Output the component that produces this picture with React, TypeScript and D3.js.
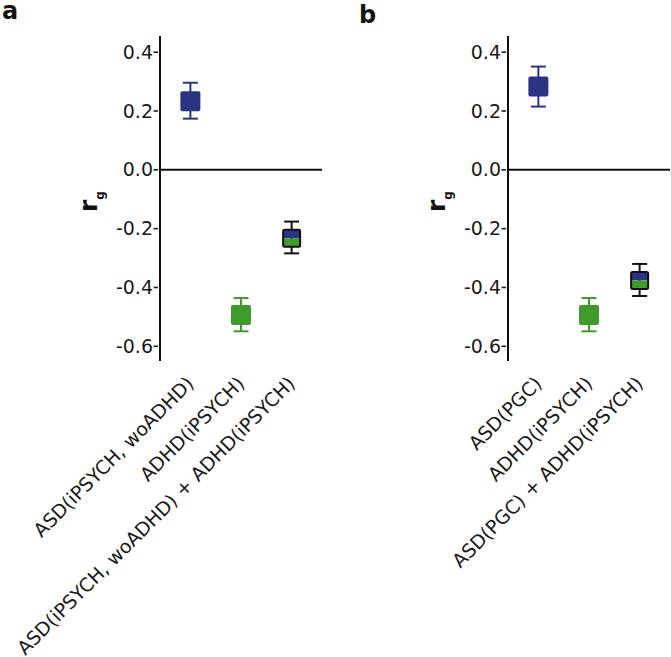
import React from "react";
import * as d3 from "d3";

// ---- data ----
const panelACategories = ["ASD(iPSYCH, woADHD)", "ADHD(iPSYCH)", "ASD(iPSYCH, woADHD) + ADHD(iPSYCH)"];
const panelAValues = [0.233, -0.494, -0.233];
const panelALower = [0.174, -0.549, -0.284];
const panelAUpper = [0.296, -0.436, -0.176];

const panelBCategories = ["ASD(PGC)", "ADHD(iPSYCH)", "ASD(PGC) + ADHD(iPSYCH)"];
const panelBValues = [0.283, -0.494, -0.376];
const panelBLower = [0.215, -0.549, -0.429];
const panelBUpper = [0.351, -0.436, -0.32];

const markerKinds = ["asd", "adhd", "combined"];
const tickValues = [-0.6, -0.4, -0.2, 0.0, 0.2, 0.4];
const tickLabels = ["-0.6", "-0.4", "-0.2", "0.0", "0.2", "0.4"];
const panelLetters = ["a", "b"];

const BLUE = "#2b3383";
const GREEN = "#3f9b2c";
const FONT = "'DejaVu Sans', sans-serif";

const W = 671;
const H = 657;

const yScale = d3.scaleLinear().domain([-0.65, 0.455]).range([361, 36]);

type PanelProps = {
  axisX: number;
  categories: string[];
  values: number[];
  lower: number[];
  upper: number[];
  letter: string;
  letterX: number;
  letterY: number;
};

function Panel({ axisX, categories, values, lower, upper, letter, letterX, letterY }: PanelProps) {
  const x = d3.scalePoint<string>().domain(categories).range([axisX, axisX + 162]).padding(0.6);
  const [y0, y1] = yScale.range();
  const cap = 7.5;
  return (
    <g>
      <text x={letterX} y={letterY} fontFamily={FONT} fontWeight="bold" fontSize={24} fill="#111">
        {letter}
      </text>
      {/* y title */}
      <text
        transform={`translate(${axisX - 63},212) rotate(-90)`}
        fontFamily={FONT}
        fontWeight="bold"
        fill="#111"
        textAnchor="start"
      >
        <tspan fontSize={25}>r</tspan>
        <tspan fontSize={12} dy={7}>g</tspan>
      </text>
      {/* axis */}
      <line x1={axisX} x2={axisX} y1={y1} y2={y0} stroke="#111" strokeWidth={2} />
      {tickValues.map((t, i) => (
        <g key={t}>
          <line x1={axisX - 6.5} x2={axisX - 2} y1={yScale(t)} y2={yScale(t)} stroke="#222" strokeWidth={1.6} />
          <text
            x={axisX - 7}
            y={yScale(t)}
            dy="0.35em"
            textAnchor="end"
            fontFamily={FONT}
            fontSize={19}
            fill="#1a1a1a"
          >
            {tickLabels[i]}
          </text>
        </g>
      ))}
      {/* zero line */}
      <line x1={axisX} x2={axisX + 162} y1={yScale(0)} y2={yScale(0)} stroke="#111" strokeWidth={2} />
      {/* markers */}
      {categories.map((c, i) => {
        const cx = x(c) as number;
        const kind = markerKinds[i];
        const color = kind === "asd" ? BLUE : kind === "adhd" ? GREEN : "#111";
        const yv = yScale(values[i]);
        const yl = yScale(lower[i]);
        const yu = yScale(upper[i]);
        return (
          <g key={c}>
            <line x1={cx} x2={cx} y1={yl} y2={yu} stroke={color} strokeWidth={2} />
            <line x1={cx - cap} x2={cx + cap} y1={yl} y2={yl} stroke={color} strokeWidth={2} />
            <line x1={cx - cap} x2={cx + cap} y1={yu} y2={yu} stroke={color} strokeWidth={2} />
            {kind !== "combined" ? (
              <rect x={cx - 10} y={yv - 10} width={20} height={20} rx={2} fill={color} />
            ) : (
              <g>
                <rect x={cx - 8.5} y={yv - 8.5} width={17} height={8.5} fill={BLUE} />
                <rect x={cx - 8.5} y={yv} width={17} height={8.5} fill={GREEN} />
                <rect x={cx - 8.5} y={yv - 8.5} width={17} height={17} rx={1.5} fill="none" stroke="#111" strokeWidth={2} />
              </g>
            )}
          </g>
        );
      })}
      {/* category labels */}
      {categories.map((c) => (
        <text
          key={"l" + c}
          transform={`translate(${(x(c) as number)},380) rotate(-45)`}
          dy="0.35em"
          textAnchor="end"
          fontFamily={FONT}
          fontSize={19}
          fill="#1a1a1a"
        >
          {c}
        </text>
      ))}
    </g>
  );
}

export default function App() {
  return (
    <svg
      width={W}
      height={H}
      viewBox={`0 0 ${W} ${H}`}
      style={{ position: "absolute", left: 0, top: 0, background: "#fff" }}
    >
      <rect width={W} height={H} fill="#fff" />
      <Panel
        axisX={160}
        categories={panelACategories}
        values={panelAValues}
        lower={panelALower}
        upper={panelAUpper}
        letter={panelLetters[0]}
        letterX={2}
        letterY={19}
      />
      <Panel
        axisX={508}
        categories={panelBCategories}
        values={panelBValues}
        lower={panelBLower}
        upper={panelBUpper}
        letter={panelLetters[1]}
        letterX={359}
        letterY={23}
      />
    </svg>
  );
}
